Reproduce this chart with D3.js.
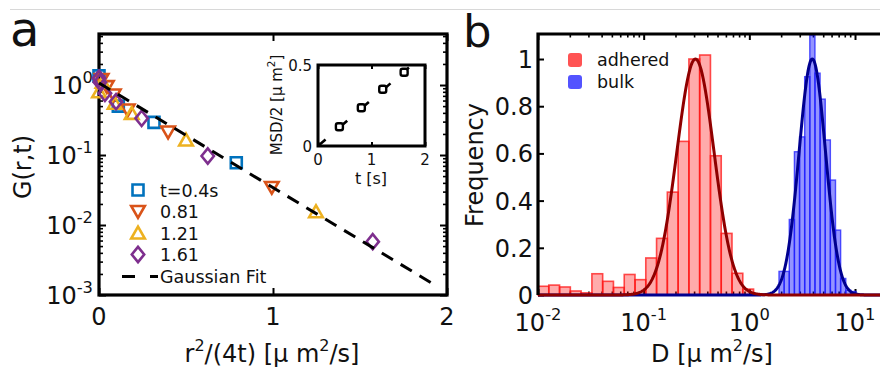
<!DOCTYPE html>
<html><head><meta charset="utf-8">
<script src="https://cdn.jsdelivr.net/npm/d3@7"></script>
<style>body{margin:0;background:#fff;} text{font-family:"DejaVu Sans",sans-serif;fill:#111;}</style>
</head><body><svg id="c" width="880" height="374"></svg>
<script>
// ---------- Panel a data: G(r,t) vs r^2/(4t) ----------
const legendLabels = ["t=0.4s", "0.81", "1.21", "1.61"];
const seriesColors = ["#0072BD", "#D95319", "#EDB120", "#7E2F8E"];
const g_t040 = [[0.0, 1.35], [0.111, 0.50], [0.316, 0.293], [0.789, 0.0776]];
const g_t081 = [[0.015, 1.2], [0.045, 0.95], [0.085, 0.72], [0.165, 0.44], [0.397, 0.213], [0.993, 0.0344]];
const g_t121 = [[0.0, 0.8], [0.02, 1.1], [0.09, 0.55], [0.188, 0.394], [0.5, 0.164], [1.247, 0.0155]];
const g_t161 = [[0.0, 1.25], [0.005, 1.1], [0.034, 0.76], [0.098, 0.578], [0.245, 0.334], [0.625, 0.0968], [1.573, 0.00578]];
const gaussFitX = [0, 1.95];
const gaussFitY = [1.07, 1.3e-3];
const aXTicks = [0, 1, 2];
const aYTicks = [1e-3, 1e-2, 1e-1, 1];
const aYTickExp = ["-3", "-2", "-1", "0"];
// inset
const insetT = [0.4, 0.81, 1.21, 1.61];
const insetMSD = [0.119, 0.236, 0.35, 0.455];
const insetFitT = [0, 1.7];
const insetFitM = [0, 0.485];
const insetXTicks = [0, 1, 2];
const insetYTicks = [0, 0.5];

// ---------- Panel b data: histograms of D ----------
const redLogStart = -2, redLogWidth = 0.102;
const redFreq = [0.037, 0.042, 0.034, 0.017, 0.009, 0.09, 0.058, 0.032, 0.087, 0.065, 0.157, 0.24, 0.436, 0.651, 1.0, 1.017, 0.59, 0.261, 0.092, 0.025];
const blueLogStart = 0.2807, blueLogWidth = 0.0486;
const blueFreq = [0.10, 0.10, 0.32, 0.607, 0.67, 0.925, 1.10, 0.94, 0.83, 0.657, 0.487, 0.275, 0.07, 0.02, 0.015];
// Gaussian fits in log10(D): [amplitude, mean, sigma]
const redFit = [1.0, -0.51, 0.176];
const blueFit = [1.0, 0.596, 0.125];
const bXTicks = [1e-2, 1e-1, 1, 10];
const bXTickExp = ["-2", "-1", "0", "1"];
const bYTicks = [0, 0.2, 0.4, 0.6, 0.8, 1];
const bLegend = ["adhered", "bulk"];

const svg = d3.select("#c");
// top gray rule
svg.append("line").attr("x1", 10).attr("x2", 880).attr("y1", 9.5).attr("y2", 9.5).attr("stroke", "#d8d8d8").attr("stroke-width", 1);

function supText(g, x, y, base, exp, size, anchor) {
  const t = g.append("text").attr("x", x).attr("y", y).attr("font-size", size).attr("text-anchor", anchor);
  t.append("tspan").text(base);
  t.append("tspan").attr("dy", -size * 0.45).attr("font-size", size * 0.68).text(exp);
  return t;
}
function tickAxis(g, axisFn, scale, values, size, transform, w) {
  const a = g.append("g").attr("transform", transform)
    .call(axisFn(scale).tickValues(values).tickSize(size).tickFormat(""));
  a.select(".domain").remove();
  a.selectAll("line").attr("stroke", "#000").attr("stroke-width", w || 2);
}
function minorLog(lo, hi) {
  const out = [];
  for (let e = lo; e < hi; e++) for (let m = 2; m <= 9; m++) out.push(m * Math.pow(10, e));
  return out;
}

// ================= Panel a =================
const ga = svg.append("g");
const xA = d3.scaleLinear().domain([0, 2]).range([99, 447]);
const yA = d3.scaleLog().domain([1e-3, Math.pow(10, 0.729)]).range([295, 34]);

ga.append("text").attr("x", 10).attr("y", 46).attr("font-size", 48).text("a");

tickAxis(ga, d3.axisLeft, yA, aYTicks, -7, "translate(99,0)");
tickAxis(ga, d3.axisLeft, yA, minorLog(-3, 1).filter(v => v < 5.3), -4, "translate(99,0)", 1.6);
tickAxis(ga, d3.axisRight, yA, aYTicks, -7, "translate(447,0)");
tickAxis(ga, d3.axisRight, yA, minorLog(-3, 1).filter(v => v < 5.3), -4, "translate(447,0)", 1.6);
tickAxis(ga, d3.axisBottom, xA, aXTicks, -7, "translate(0,295)");
tickAxis(ga, d3.axisTop, xA, aXTicks, -7, "translate(0,34)");
ga.append("rect").attr("x", xA(0)).attr("y", yA.range()[1]).attr("width", xA(2) - xA(0)).attr("height", yA.range()[0] - yA.range()[1])
  .attr("fill", "none").attr("stroke", "#000").attr("stroke-width", 3.2);

aYTicks.forEach((v, i) => supText(ga, 93, yA(v) + 9, "10", aYTickExp[i], 24, "end"));
aXTicks.forEach(v => ga.append("text").attr("x", xA(v)).attr("y", 325).attr("font-size", 24).attr("text-anchor", "middle").text(v));

// axis labels
const xl = ga.append("text").attr("x", 272).attr("y", 362).attr("font-size", 24).attr("text-anchor", "middle");
xl.append("tspan").text("r");
xl.append("tspan").attr("dy", -11).attr("font-size", 16).text("2");
xl.append("tspan").attr("dy", 11).text("/(4t) [μ m");
xl.append("tspan").attr("dy", -11).attr("font-size", 16).text("2");
xl.append("tspan").attr("dy", 11).text("/s]");
ga.append("text").attr("transform", "translate(31,167) rotate(-90)").attr("font-size", 24).attr("text-anchor", "middle").text("G(r,t)");

// markers
function markerPath(k, cx, cy) {
  if (k === 0) return `M${cx - 5.5},${cy - 5.5}h11v11h-11Z`;
  if (k === 1) return `M${cx - 6.8},${cy - 5.5}L${cx + 6.8},${cy - 5.5}L${cx},${cy + 6.3}Z`;
  if (k === 2) return `M${cx - 6.8},${cy + 5.5}L${cx + 6.8},${cy + 5.5}L${cx},${cy - 6.3}Z`;
  return `M${cx},${cy - 7.6}L${cx + 6.2},${cy}L${cx},${cy + 7.6}L${cx - 6.2},${cy}Z`;
}
const allSeries = [g_t040, g_t081, g_t121, g_t161];
allSeries.forEach((s, k) => {
  ga.selectAll(null).data(s).enter().append("path")
    .attr("d", d => markerPath(k, xA(d[0]), yA(d[1])))
    .attr("fill", "none").attr("stroke", seriesColors[k]).attr("stroke-width", 2.6).attr("stroke-linejoin", "miter");
});
const fitLine = d3.line().x(d => xA(d[0])).y(d => yA(d[1]));
ga.append("path").attr("d", fitLine(d3.zip(gaussFitX, gaussFitY))).attr("fill", "none")
  .attr("stroke", "#000").attr("stroke-width", 3).attr("stroke-dasharray", "13,9");

// legend
const legRows = [190, 211.5, 233, 254.5];
legendLabels.forEach((lab, k) => {
  ga.append("path").attr("d", markerPath(k, 138, legRows[k])).attr("fill", "none").attr("stroke", seriesColors[k]).attr("stroke-width", 2.6);
  ga.append("text").attr("x", 160).attr("y", legRows[k] + 6.5).attr("font-size", 17.5).text(lab);
});
ga.append("line").attr("x1", 122).attr("x2", 158).attr("y1", 276.5).attr("y2", 276.5).attr("stroke", "#000").attr("stroke-width", 3).attr("stroke-dasharray", "13,15");
ga.append("text").attr("x", 160).attr("y", 283).attr("font-size", 17.5).text("Gaussian Fit");

// inset
const xI = d3.scaleLinear().domain([0, 2]).range([318, 425]);
const yI = d3.scaleLinear().domain([0, 0.5]).range([146, 65]);
tickAxis(ga, d3.axisBottom, xI, insetXTicks, -4, "translate(0,146)");
tickAxis(ga, d3.axisTop, xI, insetXTicks, -4, "translate(0,65)");
ga.append("rect").attr("x", 318).attr("y", 65).attr("width", 107).attr("height", 81).attr("fill", "none").attr("stroke", "#000").attr("stroke-width", 3);
ga.append("path").attr("d", d3.line().x(d => xI(d[0])).y(d => yI(d[1]))(d3.zip(insetFitT, insetFitM)))
  .attr("fill", "none").attr("stroke", "#000").attr("stroke-width", 2.6).attr("stroke-dasharray", "10,18.6");
ga.selectAll(null).data(d3.zip(insetT, insetMSD)).enter().append("rect")
  .attr("x", d => xI(d[0]) - 3.5).attr("y", d => yI(d[1]) - 3.5).attr("width", 7).attr("height", 7).attr("rx", 2)
  .attr("fill", "#fff").attr("stroke", "#000").attr("stroke-width", 2.4);
insetXTicks.forEach(v => ga.append("text").attr("x", xI(v)).attr("y", 165).attr("font-size", 15).attr("text-anchor", "middle").text(v));
insetYTicks.forEach(v => ga.append("text").attr("x", 312).attr("y", yI(v) + 5.5).attr("font-size", 15).attr("text-anchor", "end").text(v));
ga.append("text").attr("x", 371).attr("y", 184).attr("font-size", 16).attr("text-anchor", "middle").text("t [s]");
const il = ga.append("text").attr("transform", "translate(282,105) rotate(-90)").attr("font-size", 15).attr("text-anchor", "middle");
il.append("tspan").text("MSD/2 [μ m");
il.append("tspan").attr("dy", -7).attr("font-size", 10.5).text("2");
il.append("tspan").attr("dy", 7).text("]");

// ================= Panel b =================
const gb = svg.append("g");
const xB = d3.scaleLog().domain([1e-2, Math.pow(10, 1.5)]).range([538, 538 + 3.5 * 105.67]);
const yB = d3.scaleLinear().domain([0, 1.106]).range([295, 34]);

gb.append("text").attr("x", 463).attr("y", 47).attr("font-size", 45).text("b");

tickAxis(gb, d3.axisTop, xB, bXTicks, -6, "translate(0,34)");
tickAxis(gb, d3.axisTop, xB, minorLog(-2, 2), -3.5, "translate(0,34)", 1.6);
tickAxis(gb, d3.axisBottom, xB, bXTicks, -6, "translate(0,295)");
tickAxis(gb, d3.axisBottom, xB, minorLog(-2, 2), -3.5, "translate(0,295)", 1.6);
tickAxis(gb, d3.axisLeft, yB, bYTicks, -6, "translate(538,0)");

const bins = (start, w, arr) => arr.map((f, i) => ({ lo: Math.pow(10, start + i * w), hi: Math.pow(10, start + (i + 1) * w), f }));
gb.selectAll(null).data(bins(redLogStart, redLogWidth, redFreq)).enter().append("rect")
  .attr("x", d => xB(d.lo)).attr("width", d => xB(d.hi) - xB(d.lo)).attr("y", d => yB(d.f)).attr("height", d => yB(0) - yB(d.f))
  .attr("fill", "rgba(255,0,0,0.33)").attr("stroke", "rgba(255,20,20,0.75)").attr("stroke-width", 1.6);
gb.selectAll(null).data(bins(blueLogStart, blueLogWidth, blueFreq)).enter().append("rect")
  .attr("x", d => xB(d.lo)).attr("width", d => xB(d.hi) - xB(d.lo)).attr("y", d => yB(d.f)).attr("height", d => yB(0) - yB(d.f))
  .attr("fill", "rgba(0,0,255,0.42)").attr("stroke", "rgba(30,30,255,0.75)").attr("stroke-width", 1.4);

const logGrid = d3.range(-2, 1.5001, 0.005);
function fitCurve(p) { return logGrid.map(L => [Math.pow(10, L), p[0] * Math.exp(-Math.pow(L - p[1], 2) / (2 * p[2] * p[2]))]); }
const curve = d3.line().x(d => xB(d[0])).y(d => yB(d[1]));
gb.append("path").attr("d", curve(fitCurve(blueFit))).attr("fill", "none").attr("stroke", "#00008f").attr("stroke-width", 3);
gb.append("path").attr("d", curve(fitCurve(redFit))).attr("fill", "none").attr("stroke", "#8f0000").attr("stroke-width", 3);

// frame (left, top, bottom)
gb.append("path").attr("d", `M880,34H538V295`).attr("fill", "none").attr("stroke", "#000").attr("stroke-width", 3.2);

bYTicks.forEach(v => gb.append("text").attr("x", 533).attr("y", yB(v) + 9).attr("font-size", 24).attr("text-anchor", "end").text(v));
bXTicks.forEach((v, i) => supText(gb, xB(v), 331, "10", bXTickExp[i], 24, "middle"));
const bl = gb.append("text").attr("x", 712).attr("y", 362).attr("font-size", 24).attr("text-anchor", "middle");
bl.append("tspan").text("D [μ m");
bl.append("tspan").attr("dy", -11).attr("font-size", 16).text("2");
bl.append("tspan").attr("dy", 11).text("/s]");
gb.append("text").attr("transform", "translate(483,165) rotate(-90)").attr("font-size", 24).attr("text-anchor", "middle").text("Frequency");

// legend b
const bLegColors = ["rgba(255,40,40,0.8)", "rgba(40,40,255,0.8)"];
bLegend.forEach((lab, i) => {
  gb.append("rect").attr("x", 568).attr("y", 53 + i * 22).attr("width", 14).attr("height", 14).attr("rx", 3).attr("fill", bLegColors[i]);
  gb.append("text").attr("x", 597).attr("y", 66 + i * 22).attr("font-size", 17.5).text(lab);
});
</script></body></html>
